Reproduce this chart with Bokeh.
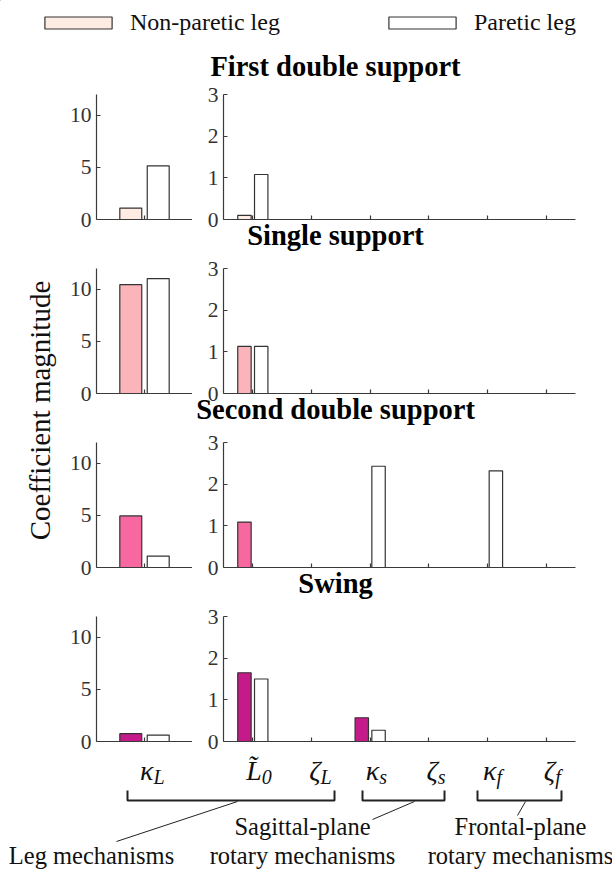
import math
from bokeh.plotting import figure
from bokeh.models import (Range1d, FixedTicker, Legend, LegendItem, ColumnDataSource,
                          Label, Title)
from bokeh.layouts import column, row
from bokeh.transform import dodge
from bokeh.core.properties import value
from bokeh.embed import file_html
from bokeh.resources import INLINE

# ---------------- data ----------------
phases = ["First double support", "Single support", "Second double support", "Swing"]
legend_labels = ["Non-paretic leg", "Paretic leg"]

# left panels: kappa_L
kL_nonparetic = [1.1, 10.45, 4.95, 0.75]
kL_paretic = [5.15, 11.03, 1.1, 0.62]

# right panels: L0, zeta_L, kappa_s, zeta_s, kappa_f, zeta_f
rot_positions = [1, 2, 3, 4, 5, 6]
rot_nonparetic = [
    [0.10, 0, 0, 0, 0, 0],
    [1.13, 0, 0, 0, 0, 0],
    [1.09, 0, 0, 0, 0, 0],
    [1.65, 0, 0.57, 0, 0, 0],
]
rot_paretic = [
    [1.08, 0, 0, 0, 0, 0],
    [1.13, 0, 0, 0, 0, 0],
    [0, 0, 2.43, 0, 2.32, 0],
    [1.50, 0, 0.27, 0, 0, 0],
]

left_yticks = [0, 5, 10]
left_ymax = 12
right_yticks = [0, 1, 2, 3]
right_ymax = 3

# category tick labels (main symbol + subscript): kappa_L, then the six rotary/leg terms
cat_main = ["κ", "L\u0303", "ζ", "κ", "ζ", "κ", "ζ"]
cat_sub = ["L", "0", "L", "s", "s", "f", "f"]

group_line1 = ["Leg mechanisms", "Sagittal-plane", "Frontal-plane"]
group_line2 = ["", "rotary mechanisms", "rotary mechanisms"]

nonparetic_colors = ["#feebe2", "#fbb4b9", "#f768a1", "#c51b8a"]
paretic_color = "#ffffff"
EDGE = "#333333"
AX = "#3a3a3a"
TXT = "#111111"
SERIF = "Liberation Serif, Times New Roman, DejaVu Serif, serif"

# Times-Bold advance widths (per 1000 em) used to centre the in-between titles
BOLD_W = {"S": 556, "i": 278, "n": 556, "g": 500, "l": 278, "e": 444, " ": 250, "s": 389,
          "u": 556, "p": 556, "o": 500, "r": 444, "t": 333, "c": 444, "d": 556, "b": 556,
          "w": 722, "F": 611}

# ---------------- layout constants (pixels) ----------------
W = 612
H_TOTAL = 875
YLAB_W = 60
FRAME_H = 125
PITCH = 174
FIRST_FRAME_TOP = 94
BT = 12
BB = PITCH - FRAME_H - BT          # 37, holds next row's title
BB_LAST = 12
L_BL, L_FW, L_BR = 36, 96, 0
R_BL, R_FW, R_BR = 31, 352, 37
LEG_H = FIRST_FRAME_TOP - BT        # 82
ROWS_BOTTOM = LEG_H + 3 * PITCH + BT + FRAME_H + BB_LAST
BOTTOM_H = H_TOTAL - ROWS_BOTTOM

BAR_W = 0.2286
BAR_OFF = 0.1429

R_X0 = YLAB_W + L_BL + L_FW + L_BR + R_BL  # page px of right frame left edge
PPU = R_FW / 6.0
L_CENTER_PX = YLAB_W + L_BL + L_FW / 2.0
TITLE_CX = 335
TITLE_PX = 28.5
TICK_FS = "21.5px"


def px_to_x(px):
    return 0.5 + (px - R_X0) / PPU


def blank_fig(w, h, xr, yr):
    p = figure(width=w, height=h, x_range=xr, y_range=yr, toolbar_location=None,
               output_backend="svg", x_axis_type=None, y_axis_type=None,
               min_border_left=0, min_border_right=0, min_border_top=0, min_border_bottom=0)
    p.outline_line_color = None
    p.grid.visible = False
    p.background_fill_color = "white"
    p.border_fill_color = "white"
    return p


def panel_fig(w, h, xr, yr, bl, br, bt, bb):
    p = figure(width=w, height=h, x_range=xr, y_range=yr, toolbar_location=None,
               output_backend="svg", min_border_left=bl, min_border_right=br,
               min_border_top=bt, min_border_bottom=bb)
    p.outline_line_color = None
    p.grid.visible = False
    p.background_fill_color = "white"
    p.border_fill_color = "white"
    return p


def style_axes(p, yticks, xticks):
    p.yaxis.ticker = FixedTicker(ticks=yticks)
    p.xaxis.ticker = FixedTicker(ticks=xticks)
    for ax in (p.xaxis[0], p.yaxis[0]):
        ax.axis_line_color = AX
        ax.axis_line_width = 1.2
        ax.major_tick_line_color = AX
        ax.major_tick_line_width = 1.2
        ax.minor_tick_line_color = None
        ax.major_tick_in = 4
        ax.major_tick_out = 0
    p.yaxis.major_label_text_font = SERIF
    p.yaxis.major_label_text_font_size = TICK_FS
    p.yaxis.major_label_text_color = "#333333"
    p.yaxis.major_label_standoff = 5
    p.xaxis.major_label_overrides = {t: "" for t in xticks}
    p.xaxis.major_label_text_font_size = "1px"
    p.xaxis.major_label_standoff = 3


# ---------------- legend + first title ----------------
leg = blank_fig(W, LEG_H, Range1d(0, W), Range1d(LEG_H, 0))
r_np = leg.vbar(x=[-50], top=[0], width=1, fill_color=nonparetic_colors[0], line_color=EDGE, line_width=1.2)
r_pa = leg.vbar(x=[-50], top=[0], width=1, fill_color=paretic_color, line_color=EDGE, line_width=1.2)
legend = Legend(items=[LegendItem(label=legend_labels[0], renderers=[r_np]),
                       LegendItem(label=legend_labels[1], renderers=[r_pa])],
                orientation="horizontal", location=(36, LEG_H - 36),
                glyph_width=84, glyph_height=15, label_standoff=10, spacing=100,
                padding=0, margin=0, border_line_color=None, background_fill_alpha=0,
                label_text_font=SERIF, label_text_font_size="24px", label_text_color=TXT)
leg.add_layout(legend)
leg.add_layout(Label(x=TITLE_CX, y=FIRST_FRAME_TOP - 28, text=phases[0],
                     text_font=SERIF, text_font_style="bold", text_font_size="%.1fpx" % TITLE_PX,
                     text_align="center", text_baseline="middle", text_color="black"))

# ---------------- panels ----------------
rows = []
for i in range(len(phases)):
    last = i == len(phases) - 1
    bb = BB_LAST if last else BB
    h = BT + FRAME_H + bb

    lf = panel_fig(L_BL + L_FW + L_BR, h, Range1d(0.5, 1.5), Range1d(0, left_ymax), L_BL, L_BR, BT, bb)
    lsrc = ColumnDataSource(dict(x=[1], np=[kL_nonparetic[i]], pa=[kL_paretic[i]]))
    lf.vbar(x=dodge("x", -BAR_OFF), top="np", width=BAR_W, source=lsrc,
            fill_color=nonparetic_colors[i], line_color=EDGE, line_width=1.2)
    lf.vbar(x=dodge("x", BAR_OFF), top="pa", width=BAR_W, source=lsrc,
            fill_color=paretic_color, line_color=EDGE, line_width=1.2)
    style_axes(lf, left_yticks, [1])

    rf = panel_fig(R_BL + R_FW + R_BR, h, Range1d(0.5, 6.5), Range1d(0, right_ymax), R_BL, R_BR, BT, bb)
    rsrc = ColumnDataSource(dict(x=rot_positions, np=rot_nonparetic[i], pa=rot_paretic[i]))
    rf.vbar(x=dodge("x", -BAR_OFF), top="np", width=BAR_W, source=rsrc,
            fill_color=nonparetic_colors[i], line_color=EDGE, line_width=1.2)
    rf.vbar(x=dodge("x", BAR_OFF), top="pa", width=BAR_W, source=rsrc,
            fill_color=paretic_color, line_color=EDGE, line_width=1.2)
    style_axes(rf, right_yticks, rot_positions)

    if not last:
        nxt = phases[i + 1]
        tw = sum(BOLD_W.get(c, 500) for c in nxt) / 1000.0 * TITLE_PX
        rf.add_layout(Title(text=nxt, align="left", offset=TITLE_CX - tw / 2 - R_X0,
                            standoff=1, vertical_align="top",
                            text_font=SERIF, text_font_style="bold",
                            text_font_size="%.1fpx" % TITLE_PX, text_color="black"), "below")

    rows.append(row(lf, rf))

# ---------------- y label ----------------
yl = blank_fig(YLAB_W, ROWS_BOTTOM - LEG_H, Range1d(0, YLAB_W), Range1d(ROWS_BOTTOM, LEG_H))
yl.text(x=[39], y=[410], text=["Coefficient magnitude"], angle=math.pi / 2,
        text_font=value(SERIF), text_font_size="29px", text_align="center",
        text_baseline="middle", text_color=TXT)

# ---------------- bottom: category labels + mechanism groups ----------------
bf = blank_fig(W, BOTTOM_H, Range1d(px_to_x(0), px_to_x(W)), Range1d(H_TOTAL, ROWS_BOTTOM))

tick_x = [px_to_x(L_CENTER_PX)] + rot_positions
junction = [t + 9.0 / PPU for t in tick_x]
bf.text(x=junction, y=[769.6] * len(junction), text=cat_main, text_font=value(SERIF),
        text_font_style="italic", text_font_size="28px", text_align="right",
        text_baseline="middle", text_color=TXT)
bf.text(x=junction, y=[776.3] * len(junction), text=cat_sub, text_font=value(SERIF),
        text_font_style="italic", text_font_size="20px", text_align="left",
        text_baseline="middle", text_color=TXT)

bracket_px = [(127, 334), (362, 444), (477, 561)]
bxs, bys = [], []
for a, b in bracket_px:
    bxs.append([px_to_x(a), px_to_x(a), px_to_x(b), px_to_x(b)])
    bys.append([790, 800, 800, 790])
bf.multi_line(xs=bxs, ys=bys, line_color="#222222", line_width=2)

ptr_start = [(237, 801), (414, 801), (525, 801)]
ptr_end = [(116, 841), (372, 819), (517, 815)]
bf.segment(x0=[px_to_x(s[0]) for s in ptr_start], y0=[s[1] for s in ptr_start],
           x1=[px_to_x(e[0]) for e in ptr_end], y1=[e[1] for e in ptr_end],
           line_color="#222222", line_width=1)

grp_cx = [91, 302, 520]
bf.text(x=[px_to_x(c) for c in grp_cx[1:]], y=[826, 826], text=group_line1[1:],
        text_font=value(SERIF), text_font_size="24.5px", text_align="center",
        text_baseline="middle", text_color=TXT)
bf.text(x=[px_to_x(c) for c in grp_cx], y=[855, 855, 855],
        text=[group_line1[0], group_line2[1], group_line2[2]],
        text_font=value(SERIF), text_font_size="24.5px", text_align="center",
        text_baseline="middle", text_color=TXT)

layout = column(leg, row(yl, column(*rows)), bf)

open("out.html", "w").write(file_html(layout, INLINE))
